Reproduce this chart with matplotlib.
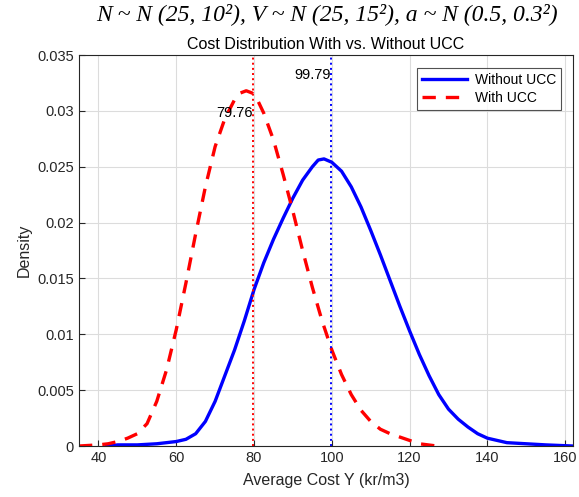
import matplotlib
matplotlib.use("Agg")
import matplotlib.pyplot as plt

# Kernel density estimates
x_without = [42, 45, 50, 55, 60, 62.5, 65, 67.5, 70, 72.5, 75, 77.5, 80, 82.5, 85, 87.5,
             90, 92.5, 95, 96.5, 98, 100, 102.5, 105, 107.5, 110, 112.5, 115, 117.5, 120,
             122.5, 125, 127.5, 130, 132.5, 135, 137.5, 140, 145, 150, 155, 162]
y_without = [0.0, 0.0001, 0.0001, 0.0002, 0.0004, 0.0006, 0.0011, 0.0022, 0.0040, 0.0063,
             0.0086, 0.0112, 0.0140, 0.0164, 0.0185, 0.0204, 0.0222, 0.0238, 0.0250, 0.0256,
             0.0257, 0.0254, 0.0246, 0.0232, 0.0214, 0.0193, 0.0171, 0.0148, 0.0125, 0.0103,
             0.0082, 0.0063, 0.0046, 0.0033, 0.0024, 0.0017, 0.0011, 0.0007, 0.0003, 0.0002,
             0.0001, 0.0]

x_with = [35, 40, 42.5, 45, 47.5, 50, 52.5, 55, 57.5, 60, 62.5, 65, 67.5, 70, 72.5, 75,
          76.5, 78, 79.5, 81, 82.5, 85, 87.5, 90, 92.5, 95, 97.5, 100, 102.5, 105, 107.5,
          110, 112.5, 115, 117.5, 120, 122.5, 127]
y_with = [0.0, 0.0001, 0.0002, 0.0004, 0.0007, 0.0011, 0.0020, 0.0040, 0.0068, 0.0104,
          0.0146, 0.0190, 0.0232, 0.0268, 0.0293, 0.0310, 0.0316, 0.0318, 0.0316, 0.0309,
          0.0298, 0.0274, 0.0243, 0.0210, 0.0175, 0.0142, 0.0112, 0.0086, 0.0064, 0.0046,
          0.0032, 0.0022, 0.0015, 0.0011, 0.0008, 0.0005, 0.0002, 0.0]

mean_without = 99.79
mean_with = 79.76

x_ticks = [40, 60, 80, 100, 120, 140, 160]
y_ticks = [0, 0.005, 0.01, 0.015, 0.02, 0.025, 0.03, 0.035]
y_tick_labels = ["0", "0.005", "0.01", "0.015", "0.02", "0.025", "0.03", "0.035"]

plt.rcParams["font.family"] = ["Liberation Sans", "DejaVu Sans"]
axis_color = "#262626"

fig = plt.figure(figsize=(5.79, 4.97), dpi=100)
ax = fig.add_axes([0.1364, 0.1026, 0.8532, 0.7867])

ax.plot(x_without, y_without, color="#0000ff", linewidth=2.4, solid_joinstyle="round",
        label="Without UCC")
ax.plot(x_with, y_with, color="#ff0000", linewidth=2.4, linestyle=(0, (4, 3)),
        dash_joinstyle="round", label="With UCC")

ax.axvline(mean_with, color="#ff0000", linestyle=":", linewidth=1.4)
ax.axvline(mean_without, color="#0000ff", linestyle=":", linewidth=1.4)
ax.text(mean_with, 0.0298, f"{mean_with:.2f}", ha="right", va="center", fontsize=10.5, color="black")
ax.text(mean_without, 0.0332, f"{mean_without:.2f}", ha="right", va="center", fontsize=10.5, color="black")

ax.set_xlim(35, 162)
ax.set_ylim(0, 0.035)
ax.set_xticks(x_ticks)
ax.set_yticks(y_ticks)
ax.set_yticklabels(y_tick_labels)
ax.tick_params(direction="in", colors=axis_color, labelsize=10.5, length=4)
for spine in ax.spines.values():
    spine.set_color(axis_color)
    spine.set_linewidth(0.8)
ax.grid(color="#dcdcdc", linewidth=0.8)
ax.set_axisbelow(True)

ax.set_xlabel("Average Cost Y (kr/m3)", fontsize=11.5, color=axis_color, labelpad=6)
ax.set_ylabel("Density", fontsize=11.5, color=axis_color)
ax.set_title("Cost Distribution With vs. Without UCC", fontsize=11.5, pad=4)

leg = ax.legend(loc="upper right", fontsize=10, frameon=True, fancybox=False,
                edgecolor=axis_color, handlelength=3.2, borderpad=0.35,
                labelspacing=0.3, handletextpad=0.6, borderaxespad=0,
                bbox_to_anchor=(0.976, 0.967))
leg.get_frame().set_linewidth(0.8)

fig.text(0.565, 0.972, "N ~ N (25, 10²), V ~ N (25, 15²), a ~ N (0.5, 0.3²)",
         ha="center", va="center", fontsize=17, style="italic",
         family=["Liberation Serif", "DejaVu Serif"])

fig.savefig("out.png", dpi=100)
